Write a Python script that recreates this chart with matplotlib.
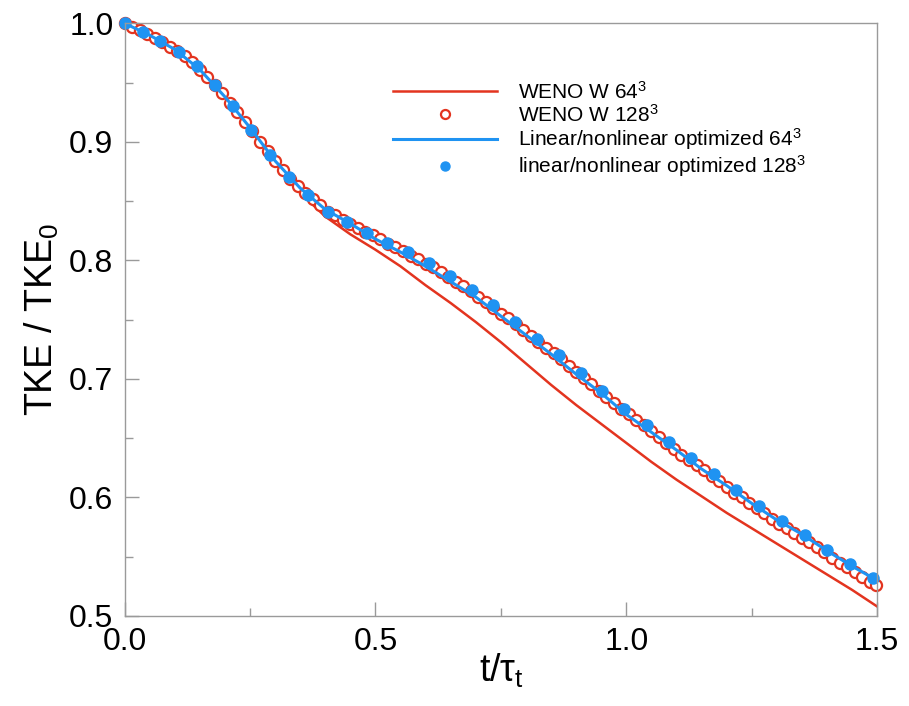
import matplotlib
matplotlib.use('Agg')
import matplotlib.pyplot as plt
import numpy as np
from matplotlib.ticker import MultipleLocator

plt.rcParams['font.family'] = ['Liberation Sans', 'DejaVu Sans']
plt.rcParams['mathtext.fontset'] = 'custom'
plt.rcParams['mathtext.rm'] = 'Liberation Sans'
plt.rcParams['mathtext.it'] = 'Liberation Sans'

# WENO W 64^3 (solid red line)
t_weno64 = [0.00, 0.05, 0.10, 0.15, 0.20, 0.25, 0.30, 0.35, 0.40, 0.45, 0.50,
            0.55, 0.60, 0.65, 0.70, 0.75, 0.80, 0.85, 0.90, 0.95, 1.00,
            1.05, 1.10, 1.15, 1.20, 1.25, 1.30, 1.35, 1.40, 1.45, 1.50]
tke_weno64 = [1.000, 0.990, 0.978, 0.961, 0.938, 0.911, 0.882, 0.857, 0.837, 0.822, 0.809,
              0.795, 0.779, 0.764, 0.748, 0.731, 0.713, 0.695, 0.678, 0.662, 0.646,
              0.630, 0.615, 0.601, 0.587, 0.574, 0.561, 0.548, 0.535, 0.522, 0.508]

# Linear/nonlinear optimized 64^3 (solid blue line)
t_opt64 = t_weno64
tke_opt64 = [1.000, 0.990, 0.978, 0.961, 0.938, 0.912, 0.884, 0.861, 0.843, 0.831, 0.818,
             0.807, 0.795, 0.782, 0.769, 0.753, 0.737, 0.721, 0.704, 0.688, 0.670,
             0.655, 0.640, 0.624, 0.610, 0.595, 0.581, 0.569, 0.555, 0.542, 0.530]

# WENO W 128^3 (open red circles)
t_weno128 = [0.000, 0.015, 0.030, 0.045, 0.060, 0.075, 0.090, 0.105, 0.120, 0.135,
             0.150, 0.165, 0.180, 0.195, 0.210, 0.225, 0.240, 0.255, 0.270, 0.285,
             0.300, 0.315, 0.330, 0.345, 0.360, 0.375, 0.390, 0.405, 0.420, 0.435,
             0.450, 0.465, 0.480, 0.495, 0.510, 0.525, 0.540, 0.555, 0.570, 0.585,
             0.600, 0.615, 0.630, 0.645, 0.660, 0.675, 0.690, 0.705, 0.720, 0.735,
             0.750, 0.765, 0.780, 0.795, 0.810, 0.825, 0.840, 0.855, 0.870, 0.885,
             0.900, 0.915, 0.930, 0.945, 0.960, 0.975, 0.990, 1.005, 1.020, 1.035,
             1.050, 1.065, 1.080, 1.095, 1.110, 1.125, 1.140, 1.155, 1.170, 1.185,
             1.200, 1.215, 1.230, 1.245, 1.260, 1.275, 1.290, 1.305, 1.320, 1.335,
             1.350, 1.365, 1.380, 1.395, 1.410, 1.425, 1.440, 1.455, 1.470, 1.485,
             1.497]
tke_weno128 = [1.000, 0.997, 0.994, 0.991, 0.988, 0.984, 0.980, 0.977, 0.972, 0.967,
               0.961, 0.955, 0.948, 0.941, 0.933, 0.925, 0.917, 0.909, 0.900, 0.892,
               0.884, 0.876, 0.869, 0.863, 0.857, 0.852, 0.847, 0.841, 0.838, 0.834,
               0.831, 0.827, 0.824, 0.821, 0.818, 0.814, 0.811, 0.808, 0.804, 0.801,
               0.797, 0.794, 0.790, 0.786, 0.782, 0.778, 0.774, 0.769, 0.765, 0.760,
               0.755, 0.751, 0.746, 0.741, 0.736, 0.731, 0.726, 0.722, 0.717, 0.711,
               0.706, 0.701, 0.696, 0.690, 0.685, 0.680, 0.675, 0.670, 0.665, 0.661,
               0.656, 0.651, 0.646, 0.641, 0.636, 0.632, 0.627, 0.623, 0.618, 0.614,
               0.609, 0.604, 0.600, 0.595, 0.591, 0.587, 0.582, 0.578, 0.574, 0.570,
               0.566, 0.562, 0.558, 0.554, 0.549, 0.545, 0.541, 0.537, 0.533, 0.529,
               0.526]

# linear/nonlinear optimized 128^3 (filled blue dots)
t_opt128 = [0.000, 0.037, 0.071, 0.108, 0.144, 0.180, 0.216, 0.253, 0.290, 0.327,
            0.366, 0.406, 0.444, 0.483, 0.523, 0.564, 0.606, 0.648, 0.692, 0.735,
            0.779, 0.822, 0.866, 0.909, 0.952, 0.995, 1.041, 1.085, 1.129, 1.174,
            1.219, 1.265, 1.310, 1.356, 1.400, 1.445, 1.491]
tke_opt128 = [1.000, 0.993, 0.985, 0.976, 0.964, 0.948, 0.930, 0.910, 0.889, 0.870,
              0.855, 0.841, 0.832, 0.823, 0.815, 0.807, 0.798, 0.787, 0.775, 0.762,
              0.748, 0.734, 0.720, 0.705, 0.690, 0.675, 0.661, 0.647, 0.633, 0.620,
              0.606, 0.593, 0.580, 0.568, 0.556, 0.544, 0.532]

red = '#e3341f'
blue = '#1f93f2'

fig = plt.figure(figsize=(9.09, 7.06), dpi=100)
ax = fig.add_axes([0.137, 0.1275, 0.828, 0.8395])

ax.plot(t_weno64, tke_weno64, color=red, lw=1.8, label='WENO W 64$^3$')
ax.plot(t_weno128, tke_weno128, ls='none', marker='o', ms=8.0, mfc='white',
        mec=red, mew=1.6, label='WENO W 128$^3$', clip_on=False)
ax.plot(t_opt64, tke_opt64, color=blue, lw=2.2, label='Linear/nonlinear optimized 64$^3$')
ax.plot(t_opt128, tke_opt128, ls='none', marker='o', ms=8.0, color=blue,
        label='linear/nonlinear optimized 128$^3$', clip_on=False)

ax.set_xlim(0, 1.5)
ax.set_ylim(0.5, 1.0)
ax.xaxis.set_major_locator(MultipleLocator(0.5))
ax.xaxis.set_minor_locator(MultipleLocator(0.25))
ax.yaxis.set_major_locator(MultipleLocator(0.1))
ax.yaxis.set_minor_locator(MultipleLocator(0.05))
ax.set_xticklabels([f'{v:.1f}' for v in ax.get_xticks()])
ax.set_yticklabels([f'{v:.1f}' for v in ax.get_yticks()])

for s in ax.spines.values():
    s.set_color('#9a9a9a')
    s.set_linewidth(1.0)
ax.tick_params(which='both', direction='in', color='#9a9a9a', top=False, right=False)
ax.tick_params(which='major', length=10, width=1.0, labelsize=23, pad=8)
ax.tick_params(which='minor', length=6, width=1.0)

ax.set_xlabel(r't/$\tau_\mathrm{t}$', fontsize=27, labelpad=-4)
ax.set_ylabel('TKE / TKE$_0$', fontsize=27, labelpad=6)

leg = ax.legend(loc='upper left', bbox_to_anchor=(0.332, 0.935), frameon=False,
                fontsize=15, handlelength=5.0, handletextpad=1.0, labelspacing=0.05,
                numpoints=1)
leg.legend_handles[1].set_markersize(6.5)
leg.legend_handles[3].set_markersize(6.5)

fig.savefig('out.png', dpi=100)
